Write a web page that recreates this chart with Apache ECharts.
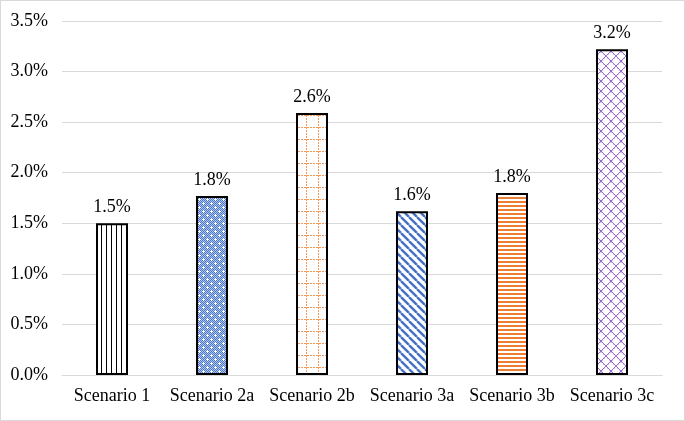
<!DOCTYPE html>
<html><head><meta charset="utf-8">
<script src="https://cdn.jsdelivr.net/npm/echarts@6/dist/echarts.min.js"></script>
<style>
html,body{margin:0;padding:0;background:#fff;}
#c{width:683px;height:419px;border:1px solid #d9d9d9;}
</style></head>
<body><div id="c"></div>
<script>
var categories = ['Scenario 1','Scenario 2a','Scenario 2b','Scenario 3a','Scenario 3b','Scenario 3c'];
var values = [1.50, 1.77, 2.59, 1.62, 1.80, 3.22];
var labels = ['1.5%','1.8%','2.6%','1.6%','1.8%','3.2%'];
var yTicks = {min:0, max:3.5, interval:0.5};

function tile(w,h,draw){
  var c=document.createElement('canvas');c.width=w;c.height=h;
  var g=c.getContext('2d');g.fillStyle='#fff';g.fillRect(0,0,w,h);draw(g,w,h);return c;
}
var pats = [
  tile(5,5,function(g){g.fillStyle='#000';g.fillRect(0,0,1,5);}),
  tile(8,8,function(g){g.fillStyle='#b4c6ec';g.fillRect(0,0,8,8);g.fillStyle='#4a78c8';
    for(var i=0;i<8;i++)for(var j=0;j<8;j++){if((i+j)%2===0)g.fillRect(i,j,1,1);}
    g.fillStyle='#fff';g.fillRect(2,1,1,3);g.fillRect(1,2,3,1);g.fillRect(6,5,1,3);g.fillRect(5,6,3,1);}),
  tile(12,12,function(g){g.fillStyle='#f39a5a';
    for(var y=0;y<12;y+=3)g.fillRect(5,y,1,2);
    for(var x=0;x<12;x+=3)g.fillRect(x,6,2,1);}),
  tile(8,8,function(g){g.strokeStyle='#4472c4';g.lineWidth=2.4;g.beginPath();
    for(var k=-8;k<=16;k+=8){g.moveTo(k,0);g.lineTo(k+8,8);}g.stroke();}),
  tile(4,4,function(g){g.fillStyle='#ed7d31';g.fillRect(0,0,4,2);}),
  tile(10,10,function(g){g.fillStyle='#9a6ad2';
    for(var i=0;i<10;i++){ g.fillRect(i,i,1,1);g.fillRect(9-i,i,1,1); if(i%2){g.globalAlpha=0.4;g.fillRect(i-1,i,1,1);g.fillRect(10-i,i,1,1);g.globalAlpha=1;} }})
];
var data = values.map(function(v,i){
  return {value:v, itemStyle:{color:{image:pats[i],repeat:'repeat'}}};
});
var chart = echarts.init(document.getElementById('c'));
chart.setOption({
  animation:false,
  grid:{left:61,right:22,top:20,bottom:45},
  xAxis:{type:'category',data:categories,
    axisLine:{lineStyle:{color:'#d9d9d9'}},axisTick:{show:false},
    axisLabel:{interval:0,fontFamily:'Liberation Serif',fontSize:18,color:'#000',margin:12}},
  yAxis:{type:'value',min:yTicks.min,max:yTicks.max,interval:yTicks.interval,
    axisLine:{show:false},axisTick:{show:false},
    splitLine:{lineStyle:{color:'#d9d9d9',width:1}},
    axisLabel:{fontFamily:'Liberation Serif',fontSize:18,color:'#000',margin:14,
      formatter:function(v){return v.toFixed(1)+'%';}}},
  series:[{type:'bar',data:data,barWidth:32,
    itemStyle:{borderColor:'#000',borderWidth:2},
    label:{show:true,position:'top',distance:7,fontFamily:'Liberation Serif',fontSize:18,color:'#000',
      formatter:function(p){return labels[p.dataIndex];}}}]
});
</script></body></html>
